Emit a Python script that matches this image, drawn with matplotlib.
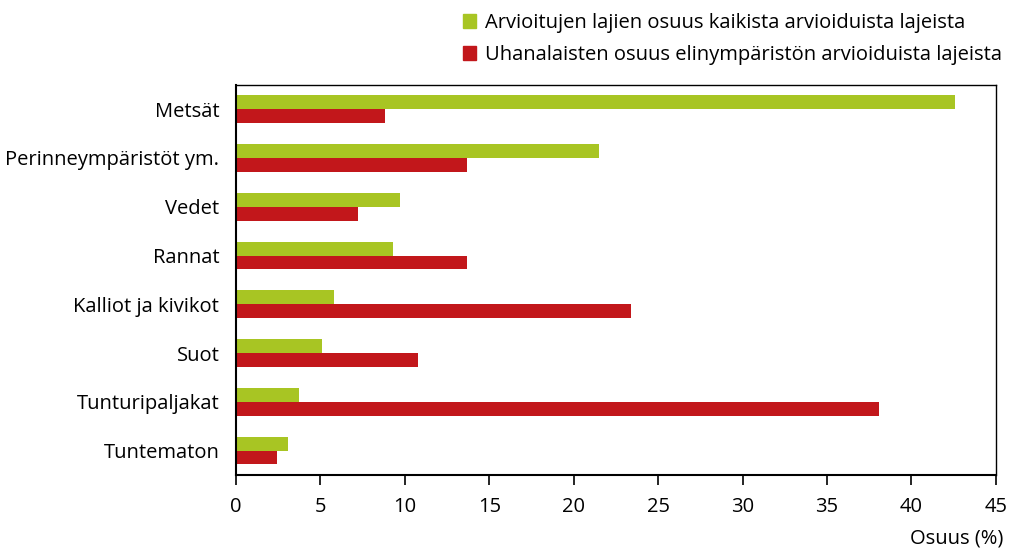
import matplotlib
matplotlib.use('Agg')
from matplotlib import pyplot as plt
from matplotlib.patches import Patch
import numpy as np

G_COLOUR = '#a8c523'
R_COLOUR = '#c2171b'
FS = 14.5
plt.rcParams['font.family'] = ['Open Sans', 'DejaVu Sans']

categories = ['Metsät', 'Perinneympäristöt ym.', 'Vedet', 'Rannat',
              'Kalliot ja kivikot', 'Suot', 'Tunturipaljakat', 'Tuntematon']
arvioidut = [42.6, 21.5, 9.7, 9.3, 5.8, 5.1, 3.7, 3.1]
uhanalaiset = [8.8, 13.7, 7.2, 13.7, 23.4, 10.8, 38.1, 2.4]
labels = ['Arvioitujen lajien osuus kaikista arvioiduista lajeista',
          'Uhanalaisten osuus elinympäristön arvioiduista lajeista']

fig = plt.figure(figsize=(10.1, 5.51), dpi=100)
ax = fig.add_axes([0.2337, 0.138, 0.7523, 0.708])

y = np.arange(len(categories))
h = 0.285
ax.barh(y - h / 2, arvioidut, height=h, color=G_COLOUR)
ax.barh(y + h / 2, uhanalaiset, height=h, color=R_COLOUR)

ax.set_ylim(len(categories) - 0.5, -0.5)
ax.set_xlim(0, 45)
ax.set_xticks(range(0, 50, 5))
ax.set_yticks(y)
ax.set_yticklabels(categories, fontsize=FS)
ax.tick_params(axis='x', labelsize=FS, direction='out', length=7, width=1.2, pad=9)
ax.tick_params(axis='y', length=0, pad=12)
for s in ax.spines.values():
    s.set_linewidth(1.0)
ax.spines['left'].set_linewidth(1.5)
ax.spines['bottom'].set_linewidth(1.5)

fig.text(0.993, 0.004, 'Osuus (%)', ha='right', va='bottom', fontsize=FS)

handles = [Patch(color=G_COLOUR), Patch(color=R_COLOUR)]
fig.legend(handles, labels, loc='upper left', bbox_to_anchor=(0.458, 0.977),
           frameon=False, fontsize=FS, handlelength=0.69, handleheight=0.69,
           handletextpad=0.4, labelspacing=0.62, borderpad=0, borderaxespad=0)

plt.savefig('out.png', dpi=100)
